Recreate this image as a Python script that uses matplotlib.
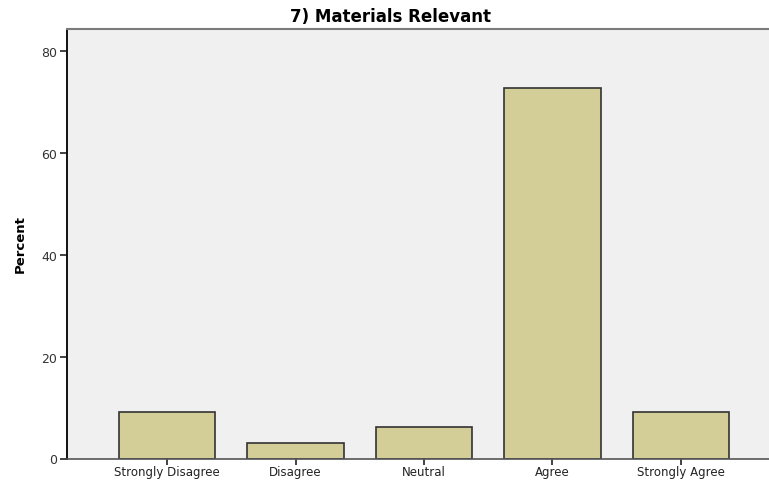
import matplotlib.pyplot as plt

# response categories and percent of respondents
categories = ['Strongly Disagree', 'Disagree', 'Neutral', 'Agree', 'Strongly Agree']
percents = [9.1, 3.0, 6.1, 72.7, 9.1]
y_ticks = [0, 20, 40, 60, 80]

plt.rcParams['font.family'] = ['DejaVu Sans']

fig = plt.figure(figsize=(7.69, 4.81), dpi=100)
# plot area runs past the right edge, like the cropped original
ax = fig.add_axes([67 / 769, 21.5 / 481, 714 / 769, 429.5 / 481])
ax.set_facecolor('#f0f0f0')

x = range(len(categories))
ax.bar(x, percents, width=0.75, color='#d3ce97', edgecolor='#333333', linewidth=1.2, zorder=2)

ax.set_xlim(-0.78, 4.78)
ax.set_ylim(0, 84.3)
ax.set_xticks(list(x))
ax.set_xticklabels(categories, fontsize=8.5, color='#222222')
ax.set_yticks(y_ticks)
ax.set_yticklabels([str(t) for t in y_ticks], fontsize=9, color='#333333')
ax.tick_params(axis='both', direction='out', length=5, width=1.2, color='#222222', pad=2)
ax.tick_params(axis='x', length=4.5, pad=0.5)

ax.spines['left'].set_color('#111111')
ax.spines['left'].set_linewidth(1.4)
ax.spines['bottom'].set_color('#555555')
ax.spines['bottom'].set_linewidth(1.2)
ax.spines['top'].set_color('#7a7a7a')
ax.spines['top'].set_linewidth(1.5)
ax.spines['right'].set_visible(False)

fig.text(20 / 769, 1 - 244 / 481, 'Percent', rotation=90, ha='center', va='center',
         fontsize=9.5, fontweight='bold')
fig.text(391 / 769, 1 - 16.5 / 481, '7) Materials Relevant', ha='center', va='center',
         fontsize=12, fontweight='bold')

fig.savefig('out.png', dpi=100)
